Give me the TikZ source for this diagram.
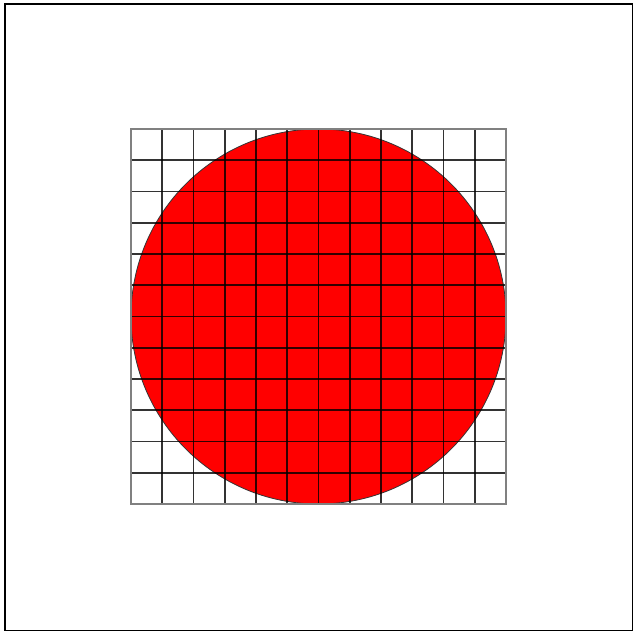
\documentclass[tikz,border=0pt]{standalone}
\usepackage{tikz}
\definecolor{disc}{RGB}{255, 0, 0}
\tikzset{
  frameline/.style={draw=black, line width=1.3pt},
  cellline/.style={draw=black, opacity=0.8, line width=1.9pt},
  discfill/.style={fill=disc, draw=black!80, line width=0.8pt}
}

\begin{document}
\begin{tikzpicture}[x=1pt, y=-1pt]
  \useasboundingbox (0,0) rectangle (637,635);
  % outer frame
  \draw[frameline] (5,4) rectangle (632.5,630.5);
  % disc under the grid
  \fill[discfill] (318.5,316.5) circle (187.5);
  % grid of 12 x 12 cells
  \foreach \i in {0,...,12} {
    \draw[cellline] ({131+31.25*\i},129) -- ({131+31.25*\i},504);
    \draw[cellline] (131,{129+31.25*\i}) -- (506,{129+31.25*\i});
  }
  \draw[draw=black!50, line width=1.9pt] (131,129) rectangle (506,504);
\end{tikzpicture}
\end{document}
